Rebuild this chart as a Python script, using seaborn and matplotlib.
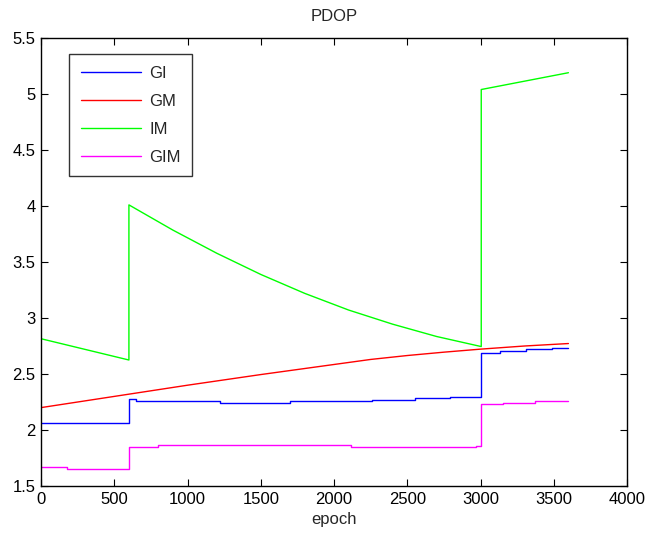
import numpy as np
import pandas as pd
import matplotlib
matplotlib.use("Agg")
import matplotlib.pyplot as plt
import seaborn as sns

# Series vertices (epoch, PDOP); repeated epochs give the vertical jumps
gi_epoch = [0, 600, 600, 650, 650, 1225, 1225, 1700, 1700, 2260, 2260, 2550, 2550,
            2790, 2790, 3005, 3005, 3130, 3130, 3310, 3310, 3490, 3490, 3600]
gi_pdop = [2.065, 2.065, 2.274, 2.274, 2.259, 2.259, 2.244, 2.244, 2.259, 2.259, 2.268,
           2.268, 2.283, 2.283, 2.297, 2.297, 2.690, 2.690, 2.705, 2.705, 2.720, 2.720,
           2.730, 2.730]

gm_epoch = [0, 500, 1000, 1500, 2000, 2250, 2500, 2750, 3000, 3300, 3600]
gm_pdop = [2.200, 2.300, 2.400, 2.495, 2.585, 2.630, 2.665, 2.695, 2.722, 2.750, 2.772]

im_epoch = [0, 600, 600, 900, 1200, 1500, 1800, 2100, 2400, 2700, 3005, 3005, 3600]
im_pdop = [2.815, 2.625, 4.010, 3.785, 3.578, 3.389, 3.220, 3.071, 2.945, 2.835, 2.745,
           5.040, 5.190]

gim_epoch = [0, 175, 175, 600, 600, 797, 797, 2117, 2117, 2970, 2970, 3005, 3005,
             3155, 3155, 3373, 3373, 3600]
gim_pdop = [1.672, 1.672, 1.655, 1.655, 1.848, 1.848, 1.863, 1.863, 1.848, 1.848,
            1.860, 1.860, 2.229, 2.229, 2.244, 2.244, 2.256, 2.256]

names = ["GI", "GM", "IM", "GIM"]
colors = ["#0000ff", "#ff0000", "#00ff00", "#ff00ff"]

frames = []
for name, ep, val in zip(names, [gi_epoch, gm_epoch, im_epoch, gim_epoch],
                         [gi_pdop, gm_pdop, im_pdop, gim_pdop]):
    frames.append(pd.DataFrame({"epoch": ep, "PDOP": val, "scheme": name}))
df = pd.concat(frames, ignore_index=True)

sns.set_theme(style="ticks")
plt.rcParams["font.family"] = ["Liberation Sans", "DejaVu Sans"]
plt.rcParams["xtick.direction"] = "in"
plt.rcParams["ytick.direction"] = "in"

fig = plt.figure(figsize=(6.48, 5.42), dpi=100)
ax = fig.add_axes([0.0633, 0.1033, 0.9043, 0.8266])

sns.lineplot(data=df, x="epoch", y="PDOP", hue="scheme", hue_order=names,
             palette=dict(zip(names, colors)), sort=False, estimator=None,
             linewidth=1.0, ax=ax, legend=False)

ax.set_xlim(0, 4000)
ax.set_ylim(1.5, 5.5)
ax.set_xticks(np.arange(0, 4001, 500))
ax.set_yticks(np.arange(1.5, 5.51, 0.5))
ax.set_xticklabels([str(v) for v in range(0, 4001, 500)])
ax.set_yticklabels(["1.5", "2", "2.5", "3", "3.5", "4", "4.5", "5", "5.5"])
ax.tick_params(axis="both", which="both", direction="in", length=5, width=0.8,
               top=True, right=True, labelsize=12, pad=4, colors="black")
for sp in ax.spines.values():
    sp.set_visible(True)
    sp.set_color("black")
    sp.set_linewidth(1.0)

ax.set_xlabel("epoch", fontsize=12, labelpad=4)
ax.set_ylabel("")
ax.set_title("PDOP", fontsize=12, pad=12)

handles = [plt.Line2D([], [], color=c, lw=1.0) for c in colors]
leg = ax.legend(handles, names, loc="upper left", bbox_to_anchor=(0.048, 0.964),
                borderaxespad=0, frameon=True, fancybox=False, fontsize=12,
                handlelength=3.6, handletextpad=0.5, labelspacing=0.78,
                borderpad=0.7)
leg.get_frame().set_edgecolor("black")
leg.get_frame().set_linewidth(1.0)

fig.savefig("out.png", dpi=100)
